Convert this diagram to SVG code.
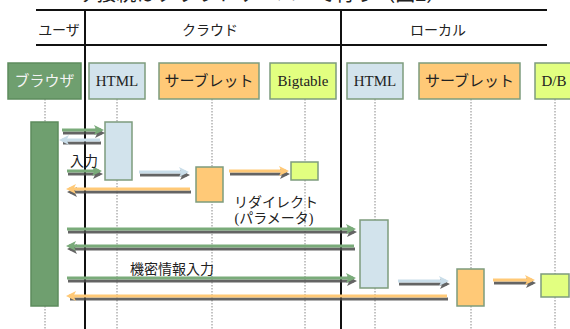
<svg xmlns="http://www.w3.org/2000/svg" width="570" height="329" viewBox="0 0 570 329">
<style>
text{font-family:"Liberation Serif","Noto Sans CJK JP",serif;fill:#222}
.hdr{font-size:14px;text-anchor:middle}
.lbl{font-size:15px;text-anchor:middle;dominant-baseline:central}
.note{font-size:14px}
.rule{stroke:#111;stroke-width:2;fill:none}
.life{stroke:#888;stroke-width:1;stroke-dasharray:1.5 1.5;fill:none}
.n-br{fill:#6f9f6f;stroke:#5d8c5d;stroke-width:1.5}
.n-ht{fill:#d2e3ec;stroke:#7d9c7d;stroke-width:1.5}
.n-sv{fill:#ffc977;stroke:#7d9c7d;stroke-width:1.5}
.n-bt{fill:#e2ff80;stroke:#7d9c7d;stroke-width:1.5}
.sh{stroke:#4a4a4a;stroke-width:3;fill:none;opacity:.85}
.g{stroke:#7aab7a;stroke-width:3;fill:none}
.b{stroke:#c9dde9;stroke-width:3;fill:none}
.o{stroke:#ffc977;stroke-width:3;fill:none}
</style>
<defs>
<marker id="ah-g" markerWidth="10" markerHeight="10" refX="7" refY="5" orient="auto" markerUnits="userSpaceOnUse"><path d="M0,0 L10,5 L0,10 L2.5,5 Z" fill="#7aab7a"/></marker>
<marker id="ah-b" markerWidth="10" markerHeight="10" refX="7" refY="5" orient="auto" markerUnits="userSpaceOnUse"><path d="M0,0 L10,5 L0,10 L2.5,5 Z" fill="#c9dde9"/></marker>
<marker id="ah-o" markerWidth="10" markerHeight="10" refX="7" refY="5" orient="auto" markerUnits="userSpaceOnUse"><path d="M0,0 L10,5 L0,10 L2.5,5 Z" fill="#ffc977"/></marker>
<marker id="ah-s" markerWidth="10" markerHeight="10" refX="7" refY="5" orient="auto" markerUnits="userSpaceOnUse"><path d="M0,0 L10,5 L0,10 L2.5,5 Z" fill="#4a4a4a"/></marker>
</defs>

<text x="37" y="1" style="font-size:20px;font-family:'Noto Sans CJK JP',sans-serif">ユーザ接続はクラウドサーバーで行う（図2）</text>

<g id="frame">
<path class="rule" d="M36,10 H547 M36,45 H547 M85,10 V329 M341,10 V329"/>
<text class="hdr" x="59" y="35">ユーザ</text>
<text class="hdr" x="210" y="35">クラウド</text>
<text class="hdr" x="438" y="35">ローカル</text>
</g>

<g id="lifelines">
<path class="life" d="M45,99 V329 M117,99 V329 M212,99 V329 M305,99 V329 M375,99 V329 M471,99 V329 M555,99 V329"/>
</g>

<g id="browser"><rect class="n-br" x="8" y="63" width="73" height="36"/><text class="lbl" x="44.5" y="81" style="fill:#f4f4f4">ブラウザ</text>
<rect class="n-br" x="31" y="122" width="27" height="184"/></g>
<g id="html-cloud"><rect class="n-ht" x="89" y="63" width="56" height="36"/><text class="lbl" x="117" y="81">HTML</text>
<rect class="n-ht" x="105" y="122" width="27" height="58"/></g>
<g id="servlet-cloud"><rect class="n-sv" x="159" y="63" width="100" height="36"/><text class="lbl" x="209" y="81">サーブレット</text>
<rect class="n-sv" x="196" y="167" width="27" height="35"/></g>
<g id="bigtable"><rect class="n-bt" x="270" y="63" width="66" height="36"/><text class="lbl" x="303" y="81">Bigtable</text>
<rect class="n-bt" x="291" y="162" width="27" height="18"/></g>
<g id="html-local"><rect class="n-ht" x="347" y="63" width="56" height="36"/><text class="lbl" x="375" y="81">HTML</text>
<rect class="n-ht" x="360" y="220" width="28" height="68"/></g>
<g id="servlet-local"><rect class="n-sv" x="419" y="63" width="101" height="36"/><text class="lbl" x="469.5" y="81">サーブレット</text>
<rect class="n-sv" x="457" y="269" width="27" height="37"/></g>
<g id="db"><rect class="n-bt" x="535" y="63" width="50" height="36"/><text class="lbl" x="554" y="81">D/B</text>
<rect class="n-bt" x="541" y="274" width="28" height="23"/></g>

<g id="connectors">
<g transform="translate(1,3)">
<path class="sh" marker-end="url(#ah-s)" d="M62,130 H101"/>
<path class="sh" d="M100,140 H62"/>
<path class="sh" marker-end="url(#ah-s)" d="M67,171 H99"/>
<path class="sh" marker-end="url(#ah-s)" d="M139,172 H186"/>
<path class="sh" marker-end="url(#ah-s)" d="M229,171 H286"/>
<path class="sh" marker-end="url(#ah-s)" d="M190,189 H69"/>
<path class="sh" marker-end="url(#ah-s)" d="M67,229 H353"/>
<path class="sh" marker-end="url(#ah-s)" d="M354,246 H69"/>
<path class="sh" marker-end="url(#ah-s)" d="M67,278 H353"/>
<path class="sh" marker-end="url(#ah-s)" d="M398,281 H446"/>
<path class="sh" marker-end="url(#ah-s)" d="M493,280 H532"/>
<path class="sh" d="M447,296 H69"/>
</g>
<path class="g" marker-end="url(#ah-g)" d="M62,130 H101"/>
<path class="b" marker-end="url(#ah-b)" d="M100,140 H62"/>
<path class="g" marker-end="url(#ah-g)" d="M67,171 H99"/>
<path class="b" marker-end="url(#ah-b)" d="M139,172 H186"/>
<path class="o" marker-end="url(#ah-o)" d="M229,171 H286"/>
<path class="o" marker-end="url(#ah-o)" d="M190,189 H69"/>
<path class="g" marker-end="url(#ah-g)" d="M67,229 H353"/>
<path class="g" marker-end="url(#ah-g)" d="M354,246 H69"/>
<path class="g" marker-end="url(#ah-g)" d="M67,278 H353"/>
<path class="b" marker-end="url(#ah-b)" d="M398,281 H446"/>
<path class="o" marker-end="url(#ah-o)" d="M493,280 H532"/>
<path class="o" marker-end="url(#ah-o)" d="M447,296 H69"/>
</g>

<g id="labels">
<text class="note" x="70" y="166">入力</text>
<text class="note" x="276" y="207" text-anchor="middle">リダイレクト</text>
<text class="note" x="274" y="223" text-anchor="middle">(パラメータ)</text>
<text class="note" x="172" y="274" text-anchor="middle">機密情報入力</text>
</g>
</svg>
